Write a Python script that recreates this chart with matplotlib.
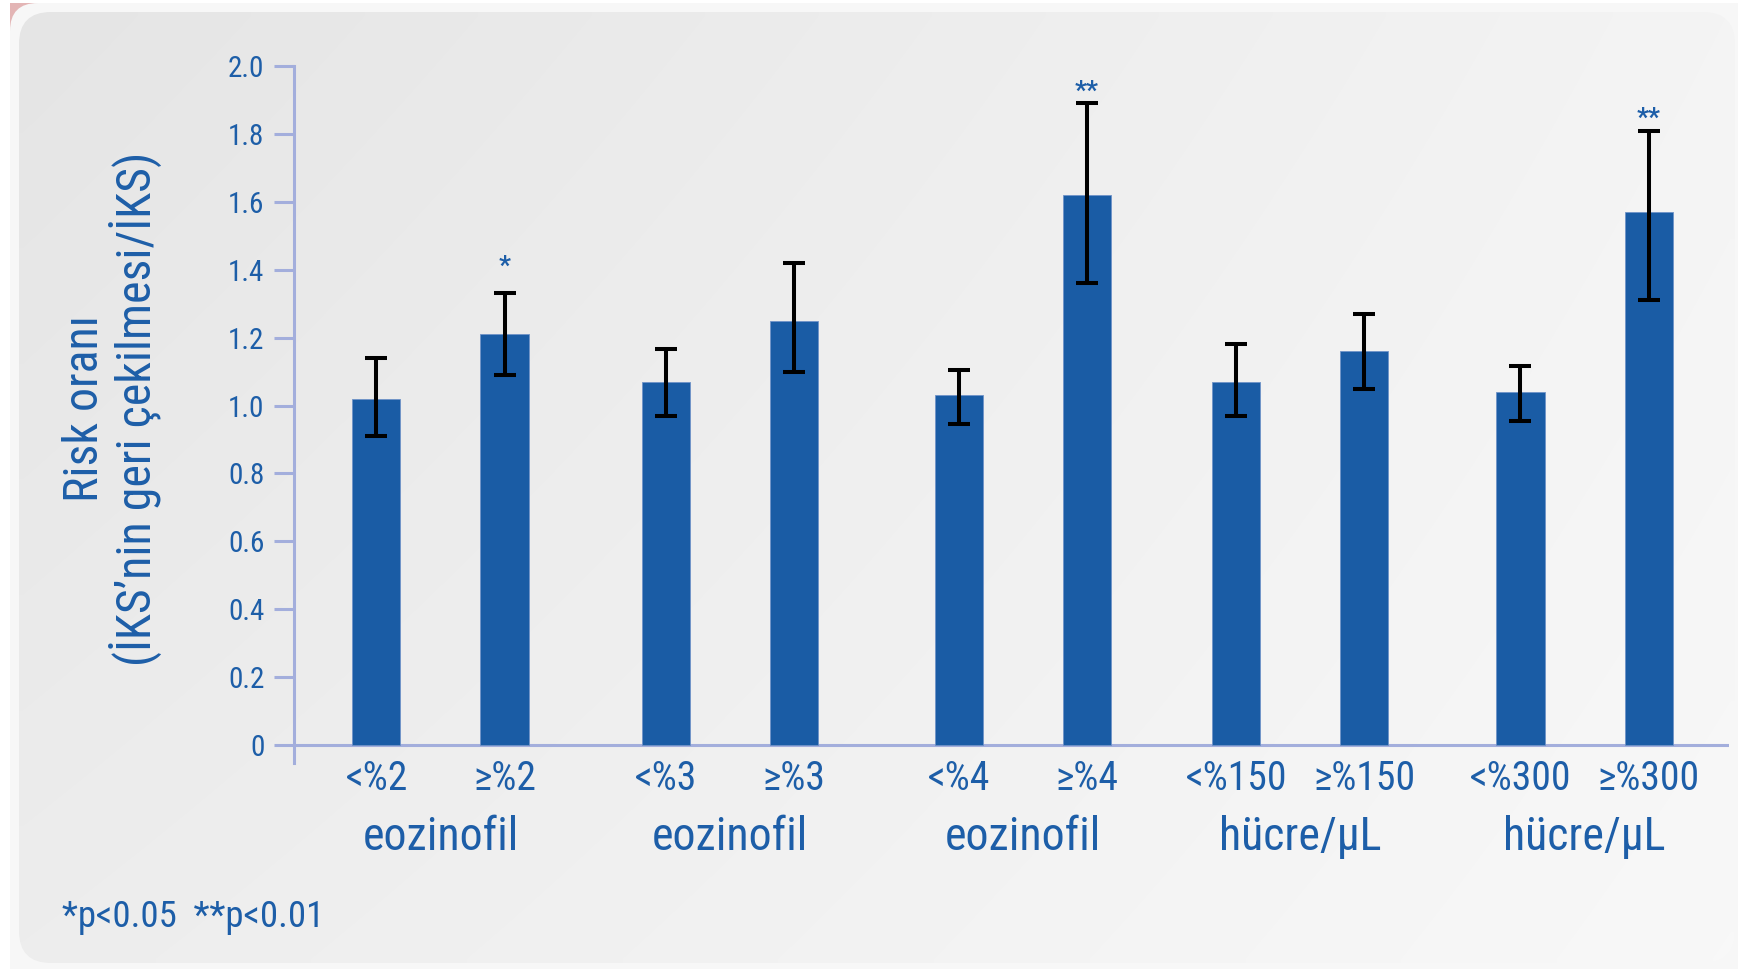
import numpy as np
import matplotlib
matplotlib.use("Agg")
import matplotlib.pyplot as plt
from matplotlib import font_manager
from matplotlib.patches import FancyBboxPatch, Rectangle
from matplotlib.transforms import blended_transform_factory

# ---- data -------------------------------------------------------------
bar_labels = ['<%2', '≥%2', '<%3', '≥%3', '<%4', '≥%4',
              '<%150', '≥%150', '<%300', '≥%300']
group_labels = ['eozinofil', 'eozinofil', 'eozinofil', 'hücre/µL', 'hücre/µL']
hazard_ratio = [1.02, 1.21, 1.07, 1.25, 1.03, 1.62, 1.07, 1.16, 1.04, 1.57]
ci_low = [0.91, 1.09, 0.97, 1.10, 0.945, 1.36, 0.97, 1.05, 0.955, 1.31]
ci_high = [1.14, 1.33, 1.165, 1.42, 1.105, 1.89, 1.18, 1.27, 1.115, 1.81]
significance = ['', '*', '', '', '', '**', '', '', '', '**']
y_ticks = [0, 0.2, 0.4, 0.6, 0.8, 1.0, 1.2, 1.4, 1.6, 1.8, 2.0]
y_tick_labels = ['0', '0.2', '0.4', '0.6', '0.8', '1.0', '1.2', '1.4', '1.6', '1.8', '2.0']
y_label = "Risk oranı\n(İKS’nin geri çekilmesi/İKS)"
footnote = "*p<0.05  **p<0.01"

# ---- fonts ------------------------------------------------------------
def pick_font(candidates):
    for name in candidates:
        try:
            font_manager.findfont(font_manager.FontProperties(family=name),
                                  fallback_to_default=False)
            return name
        except Exception:
            continue
    return 'DejaVu Sans'

FONT = pick_font(['Liberation Sans Narrow', 'Roboto Condensed', 'Roboto', 'Liberation Sans'])
plt.rcParams['font.family'] = [FONT, 'DejaVu Sans']

BLUE_TEXT = '#1d5ea8'
BAR_BLUE = '#1a5ca5'
AXIS_COL = '#a3aedc'

W, H = 1738, 969
fig = plt.figure(figsize=(W / 100, H / 100), dpi=100)
fig.patch.set_facecolor('white')

def fx(px):
    return px / W

def fy(py):
    return 1 - py / H

# ---- background panel -------------------------------------------------
bg = fig.add_axes([0, 0, 1, 1])
bg.add_patch(Rectangle((10, 3), W, H, facecolor='#e3b5b5', edgecolor='none', zorder=0))
bg.add_patch(FancyBboxPatch((10, 3), W + 40, H + 40,
                            boxstyle='round,pad=0,rounding_size=28',
                            facecolor='#f7f7f7', edgecolor='none', zorder=0.5))
panel = FancyBboxPatch((19, 12), 1716, 951,
                       boxstyle='round,pad=0,rounding_size=32',
                       facecolor='none', edgecolor='none')
bg.add_patch(panel)
gx = np.linspace(0, 1, 200)[None, :]
gy = np.linspace(0, 1, 120)[:, None]
c_tl, c_tr, c_bl, c_br = 0.898, 0.957, 0.930, 0.973
shade = (c_tl * (1 - gx) * (1 - gy) + c_tr * gx * (1 - gy)
         + c_bl * (1 - gx) * gy + c_br * gx * gy)
img = bg.imshow(np.dstack([shade] * 3), extent=(19, 1735, 963, 12),
                aspect='auto', interpolation='bilinear', zorder=1)
img.set_clip_path(panel)
bg.set_xlim(0, W)
bg.set_ylim(H, 0)
bg.axis('off')

# ---- main axes --------------------------------------------------------
y_bottom = -0.053
ax = fig.add_axes([fx(294), fy(763), fx(1729 - 294), (763 - 66) / H])
ax.set_facecolor('none')
ax.set_xlim(-0.512, 4.505)
ax.set_ylim(y_bottom, 2.0)

# horizontal centres of the five threshold groups
group_centers = np.array([0.0, 1.012, 2.036, 3.005, 4.0])
n = len(hazard_ratio)
group_idx = np.arange(n) // 2
offset = np.where(np.arange(n) % 2 == 0, -0.224, 0.224)
xpos = group_centers[group_idx] + offset

hr = np.array(hazard_ratio)
err = [hr - np.array(ci_low), np.array(ci_high) - hr]
ax.bar(xpos, hr, width=0.168, color=BAR_BLUE, edgecolor='#6f93c8',
       linewidth=0.6, zorder=2)
ax.errorbar(xpos, hr, yerr=err, fmt='none', ecolor='black',
            elinewidth=2.9, capsize=8, capthick=2.9, zorder=3)

star_gap = {'*': 15, '**': 0}
for x, top, mark in zip(xpos, ci_high, significance):
    if mark:
        ax.annotate(mark, (x, top), xytext=(0, star_gap[mark]),
                    textcoords='offset pixels', ha='center', va='bottom',
                    color=BLUE_TEXT, fontsize=19, fontweight='bold')

for side in ('top', 'right', 'bottom'):
    ax.spines[side].set_visible(False)
ax.spines['left'].set_color(AXIS_COL)
ax.spines['left'].set_linewidth(2.2)
ax.axhline(0, color=AXIS_COL, lw=2.2, zorder=1)
ax.set_yticks(y_ticks)
ax.set_yticklabels(y_tick_labels)
ax.tick_params(axis='y', length=14.4, width=2.2, color=AXIS_COL,
               labelcolor=BLUE_TEXT, labelsize=21, pad=7)
ax.set_xticks([])

trans = blended_transform_factory(ax.transData, fig.transFigure)
for x, lab in zip(xpos, bar_labels):
    ax.text(x, fy(779), lab, transform=trans, ha='center', va='center',
            color=BLUE_TEXT, fontsize=28.5)
for g, lab in zip(group_centers, group_labels):
    ax.text(g, fy(837), lab, transform=trans, ha='center', va='center',
            color=BLUE_TEXT, fontsize=33)

fig.text(fx(112), fy(409), y_label, rotation=90, ha='center', va='center',
         multialignment='center', color=BLUE_TEXT, fontsize=34.5, linespacing=1.0)
fig.text(fx(62), fy(917), footnote, ha='left', va='center',
         color=BLUE_TEXT, fontsize=26.5)

fig.savefig('out.png', dpi=100)
